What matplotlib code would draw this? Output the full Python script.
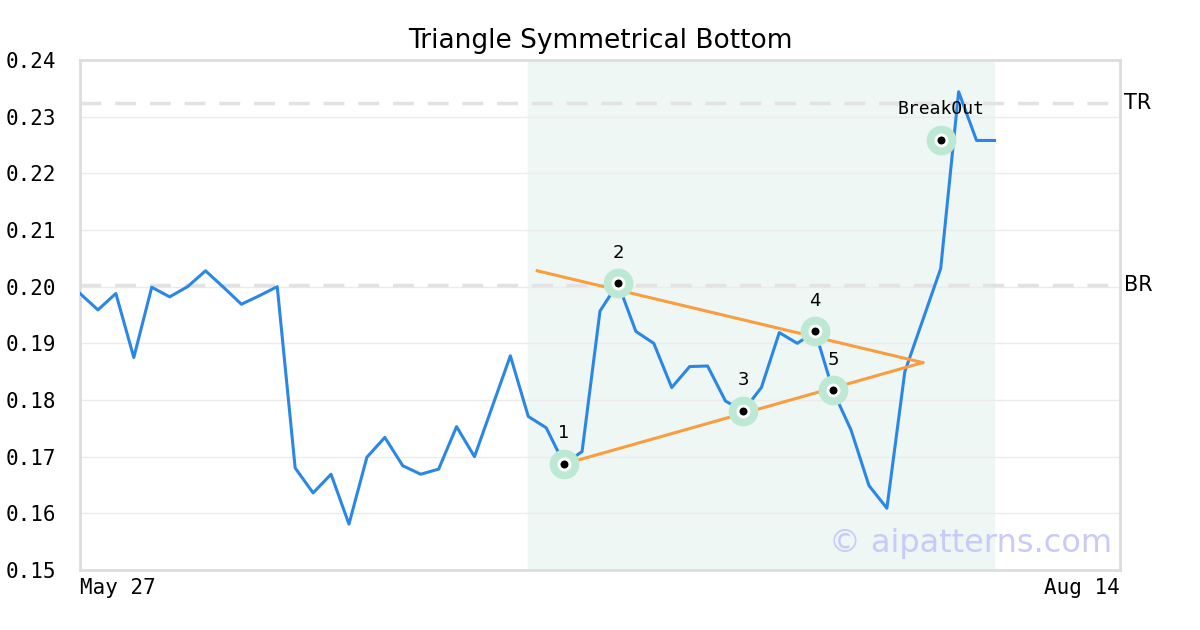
import matplotlib
matplotlib.use("Agg")
import matplotlib.pyplot as plt

# Precio de cierre (un valor por sesión)
prices = [0.1988, 0.1959, 0.1988, 0.1875, 0.1999, 0.1982, 0.2000, 0.2028, 0.1999, 0.1969,
          0.1984, 0.2000, 0.1680, 0.1636, 0.1669, 0.1581, 0.1699, 0.1734, 0.1684, 0.1669,
          0.1678, 0.1753, 0.1700, 0.1789, 0.1878, 0.1771, 0.1751, 0.1687, 0.1709, 0.1957,
          0.2006, 0.1921, 0.1900, 0.1822, 0.1859, 0.1860, 0.1798, 0.1781, 0.1822, 0.1919,
          0.1900, 0.1921, 0.1816, 0.1747, 0.1649, 0.1609, 0.1850, 0.1941, 0.2032, 0.2344,
          0.2258, 0.2258]
x_labels = ["May 27", "Aug 14"]
x_label_pos = [0, 58]

# Puntos del patrón
pivot_idx = [27, 30, 37, 41, 42]
pivot_val = [0.1687, 0.2006, 0.1781, 0.1921, 0.1817]
pivot_names = ["1", "2", "3", "4", "5"]

# Líneas de tendencia
upper_x = [25.5, 47]
upper_y = [0.2028, 0.1866]
lower_x = [27, 47]
lower_y = [0.1687, 0.1866]

# Ruptura
breakout_idx = 48
breakout_val = 0.2259

# Niveles
tr_level = 0.2324
br_level = 0.2003
zone = [25, 51]

fig = plt.figure(figsize=(12, 6.3), dpi=100)
ax = fig.add_axes([80 / 1200, 60 / 630, 1040 / 1200, 510 / 630])

ax.axvspan(zone[0], zone[1], color="#eef7f3", zorder=0)
ax.axhline(tr_level, color="#e2e2e2", lw=2.5, ls=(0, (6, 4)), zorder=1)
ax.axhline(br_level, color="#e2e2e2", lw=2.5, ls=(0, (6, 4)), zorder=1)

ax.plot(range(len(prices)), prices, color="#2b87e6", lw=2.2, zorder=3)
ax.plot(upper_x, upper_y, color="#f99d40", lw=2.2, zorder=4)
ax.plot(lower_x, lower_y, color="#f99d40", lw=2.2, zorder=4)

# Marcadores
mx = pivot_idx + [breakout_idx]
my = pivot_val + [breakout_val]
ax.scatter(mx, my, s=460, color="#bde9d4", zorder=5, linewidths=0)
ax.scatter(mx, my, s=100, color="white", zorder=6, linewidths=0)
ax.scatter(mx, my, s=33, color="black", zorder=7, linewidths=0)

for i, v, n in zip(pivot_idx, pivot_val, pivot_names):
    ax.annotate(n, (i, v), xytext=(0, 22), textcoords="offset points",
                ha="center", va="center", fontsize=13, zorder=8)
ax.annotate("BreakOut", (breakout_idx, breakout_val), xytext=(0, 22),
            textcoords="offset points", ha="center", va="center",
            fontsize=13, family="DejaVu Sans Mono", zorder=8)

ax.text(1.004, tr_level, "TR", transform=ax.get_yaxis_transform(),
        ha="left", va="center", fontsize=15)
ax.text(1.004, br_level, "BR", transform=ax.get_yaxis_transform(),
        ha="left", va="center", fontsize=15)

ax.text(0.992, 0.052, "© aipatterns.com", transform=ax.transAxes,
        ha="right", va="center", fontsize=23, color="#cacaf8", zorder=9)

ax.set_xlim(0, 58)
ax.set_ylim(0.15, 0.24)
ax.set_yticks([0.15 + 0.01 * k for k in range(10)])
ax.set_yticklabels([f"{0.15 + 0.01 * k:.2f}" for k in range(10)],
                   family="DejaVu Sans Mono", fontsize=15)
ax.set_xticks(x_label_pos)
ax.set_xticklabels(x_labels, family="DejaVu Sans Mono", fontsize=15)
xt = ax.get_xticklabels()
xt[0].set_ha("left")
xt[1].set_ha("right")
ax.tick_params(length=0, pad=6)
ax.tick_params(axis="y", pad=17)
ax.grid(axis="y", color="#ebebeb", lw=1)
ax.set_axisbelow(True)
for s in ax.spines.values():
    s.set_color("#dddddd")
    s.set_linewidth(2)

ax.set_title("Triangle Symmetrical Bottom", fontsize=19, pad=9)

fig.savefig("out.png", dpi=100)
